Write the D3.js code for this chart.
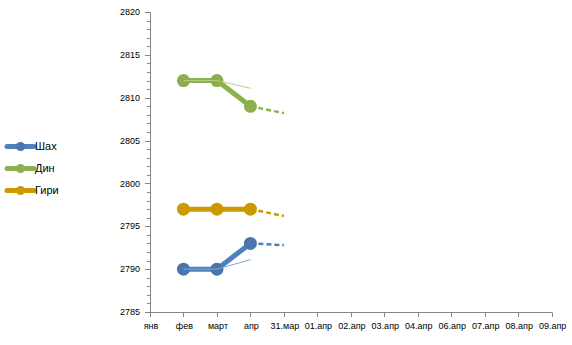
<!DOCTYPE html>
<html>
<head>
<meta charset="utf-8">
<script src="https://cdn.jsdelivr.net/npm/d3@7"></script>
<style>
  html, body { margin: 0; padding: 0; background: #fff; }
  svg { display: block; }
  text { font-family: "Liberation Sans", Arial, sans-serif; fill: #000; }
</style>
</head>
<body>
<svg id="chart" width="572" height="345"></svg>
<script>
// Categories along the bottom axis
const categories = ['янв', 'фев', 'март', 'апр', '31.мар', '01.апр', '02.апр', '03.апр', '04.апр', '06.апр', '07.апр', '08.апр', '09.апр'];

// Ratings per month (null = no value)
const shahValues = [null, 2790, 2790, 2793];
const dinValues  = [null, 2812, 2812, 2809];
const giriValues = [null, 2797, 2797, 2797];

// Thin secondary lines
const shahThin = [null, 2790, 2790, 2791.1];
const dinThin  = [null, 2812, 2812, 2811.1];

// Dashed projections from апр to 31.мар
const projCats = ['апр', '31.мар'];
const shahProj = [2793, 2792.8];
const dinProj  = [2809, 2808.2];
const giriProj = [2797, 2796.2];

// Y axis ticks
const yMin = 2785, yMax = 2820;
const yMajorTicks = [2785, 2790, 2795, 2800, 2805, 2810, 2815, 2820];

const series = [
  { name: 'Шах',  values: shahValues, thin: shahThin, proj: shahProj, line: '#4f81bd', marker: '#4a76ad', thinColor: '#7fa6d9' },
  { name: 'Дин',  values: dinValues,  thin: dinThin,  proj: dinProj,  line: '#8db050', marker: '#8cae4c', thinColor: '#b4cf7c' },
  { name: 'Гири', values: giriValues, thin: null,     proj: giriProj, line: '#cc9a00', marker: '#cc9a00', thinColor: null }
];

const svg = d3.select('#chart');
const axisColor = '#868686';

const x = d3.scalePoint().domain(categories).range([150, 551.7]).padding(0);
const y = d3.scaleLinear().domain([yMin, yMax]).range([312, 12]);

// Y axis: minor ticks every unit, major every 5
const yAxisG = svg.append('g');
yAxisG.append('line')
  .attr('x1', 150.5).attr('x2', 150.5)
  .attr('y1', y(yMax)).attr('y2', y(yMin))
  .attr('stroke', axisColor).attr('stroke-width', 1);
yAxisG.selectAll('line.minor')
  .data(d3.range(yMin, yMax + 1, 1))
  .join('line')
  .attr('class', 'minor')
  .attr('x1', d => yMajorTicks.includes(d) ? 145 : 147)
  .attr('x2', 150.5)
  .attr('y1', d => Math.round(y(d)) + 0.5)
  .attr('y2', d => Math.round(y(d)) + 0.5)
  .attr('stroke', axisColor).attr('stroke-width', 1);
yAxisG.selectAll('text')
  .data(yMajorTicks)
  .join('text')
  .attr('x', 140)
  .attr('y', d => y(d))
  .attr('dy', '0.35em')
  .attr('text-anchor', 'end')
  .attr('font-size', '9px')
  .text(d => d);

// X axis with a tick at every category
const xAxisG = svg.append('g');
xAxisG.append('line')
  .attr('x1', 150).attr('x2', x(categories[categories.length - 1]) + 0.5)
  .attr('y1', 312.5).attr('y2', 312.5)
  .attr('stroke', axisColor).attr('stroke-width', 1);
xAxisG.selectAll('line.tick')
  .data(categories)
  .join('line')
  .attr('class', 'tick')
  .attr('x1', d => Math.round(x(d)) + 0.5)
  .attr('x2', d => Math.round(x(d)) + 0.5)
  .attr('y1', 312.5).attr('y2', 317)
  .attr('stroke', axisColor).attr('stroke-width', 1);
xAxisG.selectAll('text')
  .data(categories)
  .join('text')
  .attr('x', d => x(d) + 1)
  .attr('y', 328.5)
  .attr('text-anchor', 'middle')
  .attr('font-size', '9px')
  .text(d => d);

const lineGen = d3.line()
  .defined(d => d.v != null)
  .x(d => x(d.c))
  .y(d => y(d.v));

const plot = svg.append('g');

series.forEach(s => {
  // dashed projection
  plot.append('path')
    .datum(projCats.map((c, i) => ({ c, v: s.proj[i] })))
    .attr('d', lineGen)
    .attr('fill', 'none')
    .attr('stroke', s.line)
    .attr('stroke-width', 2.5)
    .attr('stroke-dasharray', '5,3');
  // main line
  plot.append('path')
    .datum(s.values.map((v, i) => ({ c: categories[i], v })))
    .attr('d', lineGen)
    .attr('fill', 'none')
    .attr('stroke', s.line)
    .attr('stroke-width', 5)
    .attr('stroke-linejoin', 'round');
  // markers
  plot.selectAll(null)
    .data(s.values.map((v, i) => ({ c: categories[i], v })).filter(d => d.v != null))
    .join('circle')
    .attr('cx', d => x(d.c))
    .attr('cy', d => y(d.v))
    .attr('r', 6.5)
    .attr('fill', s.marker);
  // thin secondary line
  if (s.thin) {
    plot.append('path')
      .datum(s.thin.map((v, i) => ({ c: categories[i], v })))
      .attr('d', lineGen)
      .attr('fill', 'none')
      .attr('stroke', s.thinColor)
      .attr('stroke-width', 1);
  }
});

// Legend
const legend = svg.append('g');
series.forEach((s, i) => {
  const cy = 146.5 + i * 22;
  legend.append('line')
    .attr('x1', 7).attr('x2', 34)
    .attr('y1', cy).attr('y2', cy)
    .attr('stroke', s.line).attr('stroke-width', 5)
    .attr('stroke-linecap', 'round');
  legend.append('circle')
    .attr('cx', 20.5).attr('cy', cy).attr('r', 4.5)
    .attr('fill', s.marker);
  legend.append('text')
    .attr('x', 35).attr('y', cy)
    .attr('dy', '0.36em')
    .attr('font-size', '11px')
    .text(s.name);
});
</script>
</body>
</html>
